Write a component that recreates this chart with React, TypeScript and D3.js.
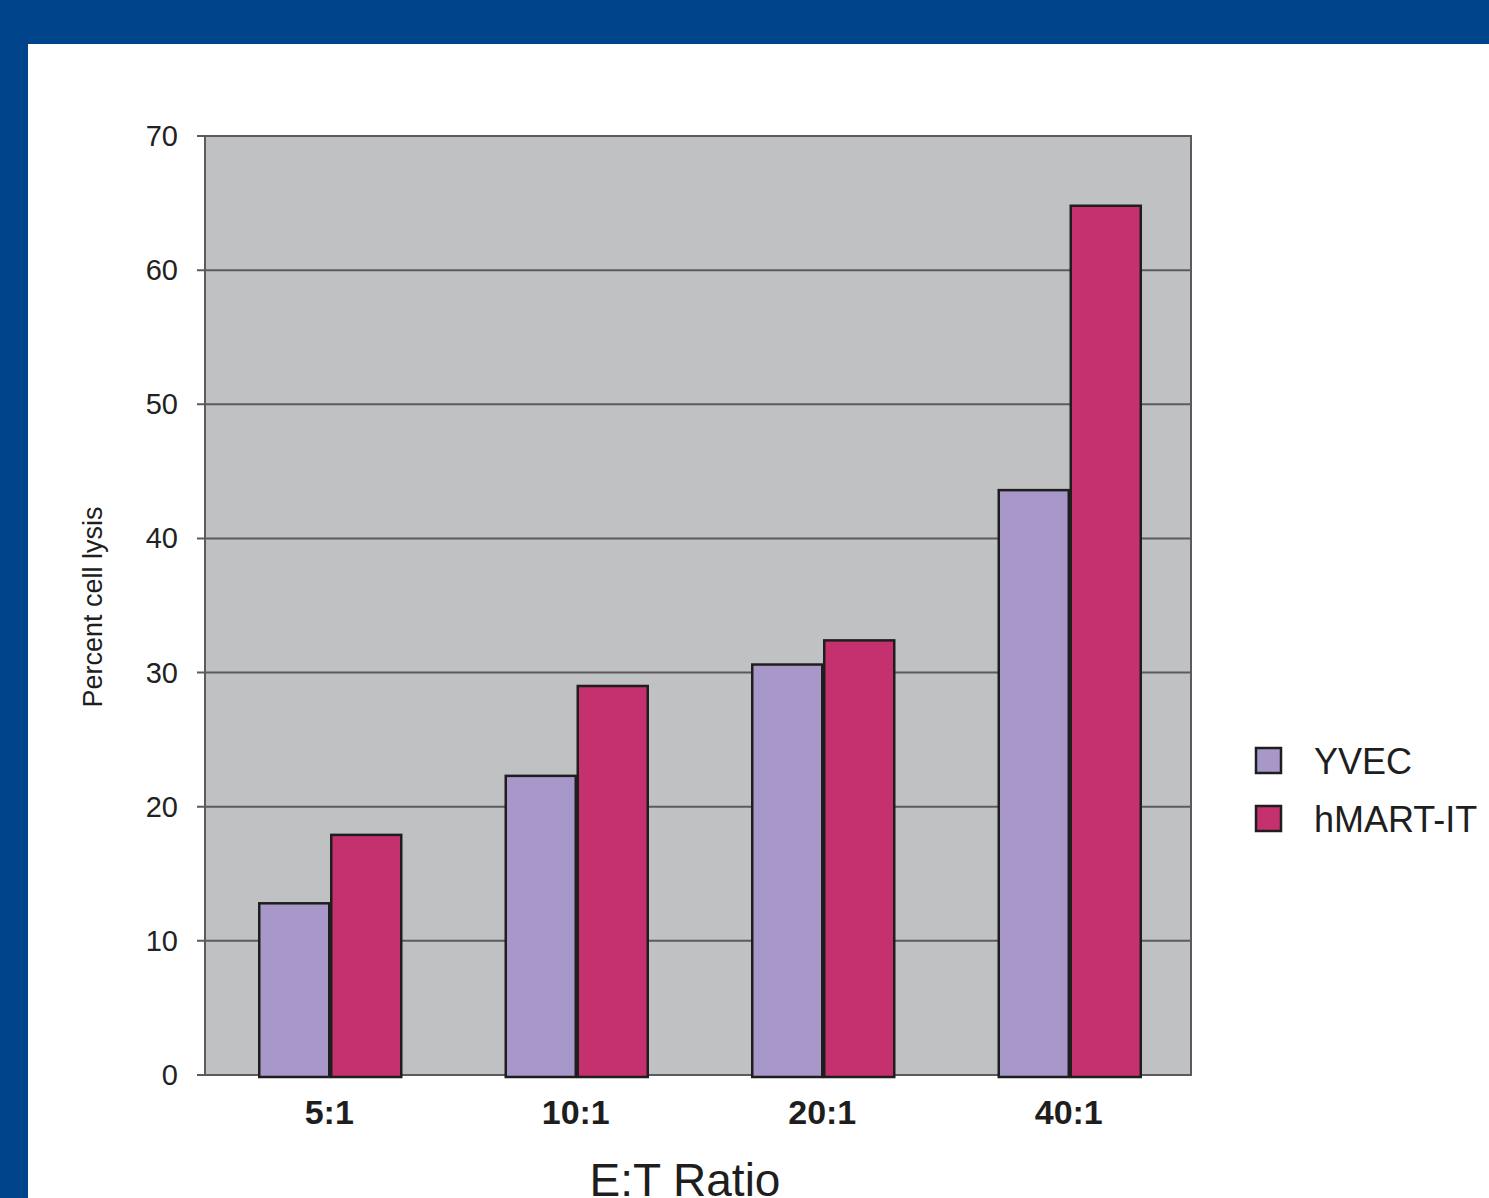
import React from "react";
import * as d3 from "d3";

const categories = ["5:1", "10:1", "20:1", "40:1"];
const seriesNames = ["YVEC", "hMART-IT"];
const yvec = [12.8, 22.3, 30.6, 43.6];
const hmart = [17.9, 29.0, 32.4, 64.8];
const yTicks = [0, 10, 20, 30, 40, 50, 60, 70];
const colors = ["#a897c9", "#c5306e"];

const W = 1489;
const H = 1198;
const plot = { left: 205, right: 1191, top: 136, bottom: 1075 };
const font = "'Liberation Sans', Arial, Helvetica, sans-serif";

export default function App() {
  const x0 = d3.scaleBand<string>().domain(categories).range([plot.left + 2, plot.right + 2]).padding(0);
  const y = d3.scaleLinear().domain([0, 70]).range([plot.bottom, plot.top]);
  const barW = 70;
  const gap = 2;
  const values = [yvec, hmart];

  return (
    <svg width={W} height={H} style={{ position: "absolute", left: 0, top: 0 }}>
      <rect x={0} y={0} width={W} height={H} fill="#ffffff" />
      <rect x={0} y={0} width={W} height={44} fill="#00448c" />
      <rect x={0} y={0} width={28} height={H} fill="#00448c" />

      <rect x={plot.left} y={plot.top} width={plot.right - plot.left} height={plot.bottom - plot.top} fill="#c0c1c3" />
      {yTicks.map((t) => (
        <g key={t}>
          <line x1={plot.left - 8} x2={plot.right} y1={y(t)} y2={y(t)} stroke="#5b5b5f" strokeWidth={2} />
          <text x={178} y={y(t) + 10} textAnchor="end" fontFamily={font} fontSize={29} fill="#222">
            {t}
          </text>
        </g>
      ))}
      <rect x={plot.left} y={plot.top} width={plot.right - plot.left} height={plot.bottom - plot.top} fill="none" stroke="#5b5b5f" strokeWidth={2} />

      {categories.map((c, i) => {
        const cx = (x0(c) as number) + x0.bandwidth() / 2;
        return (
          <g key={c}>
            {values.map((vals, s) => {
              const bx = s === 0 ? cx - gap / 2 - barW : cx + gap / 2;
              return (
                <rect
                  key={s}
                  x={bx}
                  y={y(vals[i])}
                  width={barW}
                  height={plot.bottom + 2 - y(vals[i])}
                  fill={colors[s]}
                  stroke="#1e1e1e"
                  strokeWidth={2.5}
                />
              );
            })}
            <text x={cx - 1} y={1124} textAnchor="middle" fontFamily={font} fontWeight="bold" fontSize={34} fill="#1e1e1e">
              {c}
            </text>
          </g>
        );
      })}

      <text
        transform={`translate(102, 607) rotate(-90)`}
        textAnchor="middle"
        fontFamily={font}
        fontSize={27}
        fill="#1e1e1e"
      >
        Percent cell lysis
      </text>
      <text x={685} y={1196} textAnchor="middle" fontFamily={font} fontSize={46} fill="#1e1e1e">
        E:T Ratio
      </text>

      {seriesNames.map((n, s) => (
        <g key={n}>
          <rect x={1256} y={748 + s * 58} width={25} height={25} fill={colors[s]} stroke="#1e1e1e" strokeWidth={2.5} />
          <text x={1314} y={774 + s * 58} fontFamily={font} fontSize={36} fill="#1e1e1e">
            {n}
          </text>
        </g>
      ))}
    </svg>
  );
}
